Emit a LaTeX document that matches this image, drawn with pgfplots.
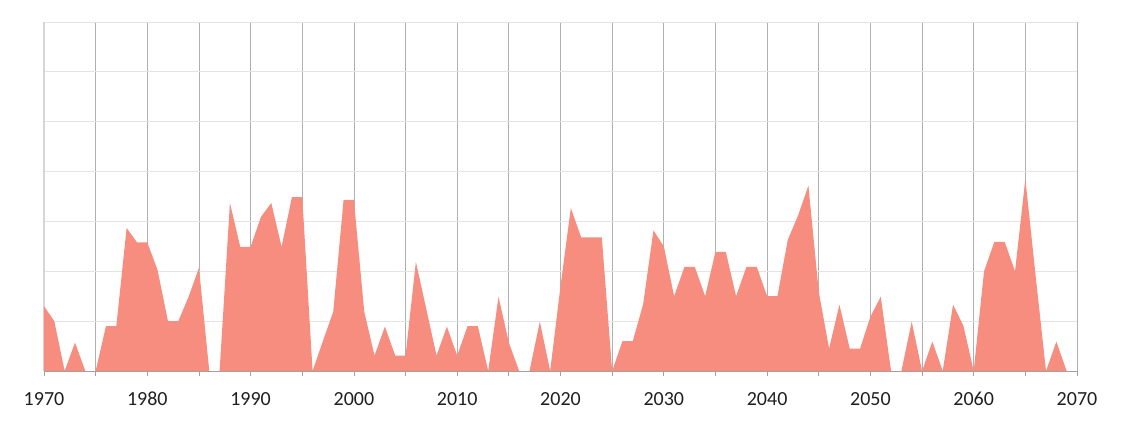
\documentclass[border=0pt]{standalone}
\usepackage{fontspec}
\setmainfont{Carlito}
\usepackage{pgfplots}
\pgfplotsset{compat=1.18}
\definecolor{fillc}{RGB}{246,141,126}
\definecolor{vgrid}{RGB}{176,176,176}
\definecolor{hgrid}{RGB}{228,228,228}
\definecolor{yaxc}{RGB}{214,214,214}
\definecolor{xaxc}{RGB}{160,160,160}
\begin{document}
\begin{tikzpicture}
\begin{axis}[
  scale only axis,
  width=1033pt, height=349pt,
  xmin=1970, xmax=2070, ymin=0, ymax=7,
  axis x line*=bottom, axis y line*=left,
  x axis line style={xaxc, line width=1pt, -},
  y axis line style={yaxc, line width=1.2pt, -},
  xtick={1970,1980,...,2070},
  xticklabels={1970,1980,1990,2000,2010,2020,2030,2040,2050,2060,2070},
  minor x tick num=1,
  tick align=outside,
  major tick length=5pt, minor tick length=5pt,
  x tick style={xaxc, line width=0.8pt},
  ytick={1,2,...,7},
  yticklabels={},
  y tick style={draw=none},
  xmajorgrids, xminorgrids, ymajorgrids,
  x grid style={vgrid, line width=0.8pt},
  minor x grid style={vgrid, line width=0.8pt},
  y grid style={hgrid, line width=0.8pt},
  ticklabel style={font=\fontsize{20}{24}\selectfont, text=black!88},
  xticklabel style={anchor=base, yshift=-29pt},
]
\addplot[fill=fillc, draw=none] coordinates {
(1970,1.3) (1971,1.0) (1972,0) (1973,0.57) (1974,0) (1975,0) (1976,0.9) (1977,0.9)
(1978,2.87) (1979,2.58) (1980,2.58) (1981,2.02) (1982,1.0) (1983,1.0) (1984,1.49)
(1985,2.07) (1986,0) (1987,0) (1988,3.37) (1989,2.49) (1990,2.49) (1991,3.09)
(1992,3.37) (1993,2.49) (1994,3.49) (1995,3.49) (1996,0) (1997,0.6) (1998,1.19)
(1999,3.43) (2000,3.43) (2001,1.19) (2002,0.31) (2003,0.89) (2004,0.31) (2005,0.31)
(2006,2.19) (2007,1.25) (2008,0.31) (2009,0.89) (2010,0.31) (2011,0.9) (2012,0.9)
(2013,0) (2014,1.49) (2015,0.57) (2016,0) (2017,0) (2018,0.99) (2019,0) (2020,1.7)
(2021,3.27) (2022,2.68) (2023,2.68) (2024,2.68) (2025,0) (2026,0.6) (2027,0.6)
(2028,1.34) (2029,2.82) (2030,2.5) (2031,1.5) (2032,2.09) (2033,2.09) (2034,1.5)
(2035,2.39) (2036,2.39) (2037,1.5) (2038,2.09) (2039,2.09) (2040,1.5) (2041,1.5)
(2042,2.63) (2043,3.12) (2044,3.72) (2045,1.59) (2046,0.45) (2047,1.33) (2048,0.45)
(2049,0.45) (2050,1.09) (2051,1.49) (2052,0) (2053,0) (2054,0.99) (2055,0)
(2056,0.59) (2057,0) (2058,1.33) (2059,0.91) (2060,0) (2061,2.0) (2062,2.59)
(2063,2.59) (2064,2.0) (2065,3.85) (2066,1.9) (2067,0) (2068,0.59) (2069,0) (2070,0)
} \closedcycle;
\end{axis}
\path (current axis.south west) ++(-44pt,-52pt) coordinate (bbA);
\path (current axis.north east) ++(47pt,22pt) coordinate (bbB);
\useasboundingbox (bbA) rectangle (bbB);
\end{tikzpicture}
\end{document}
